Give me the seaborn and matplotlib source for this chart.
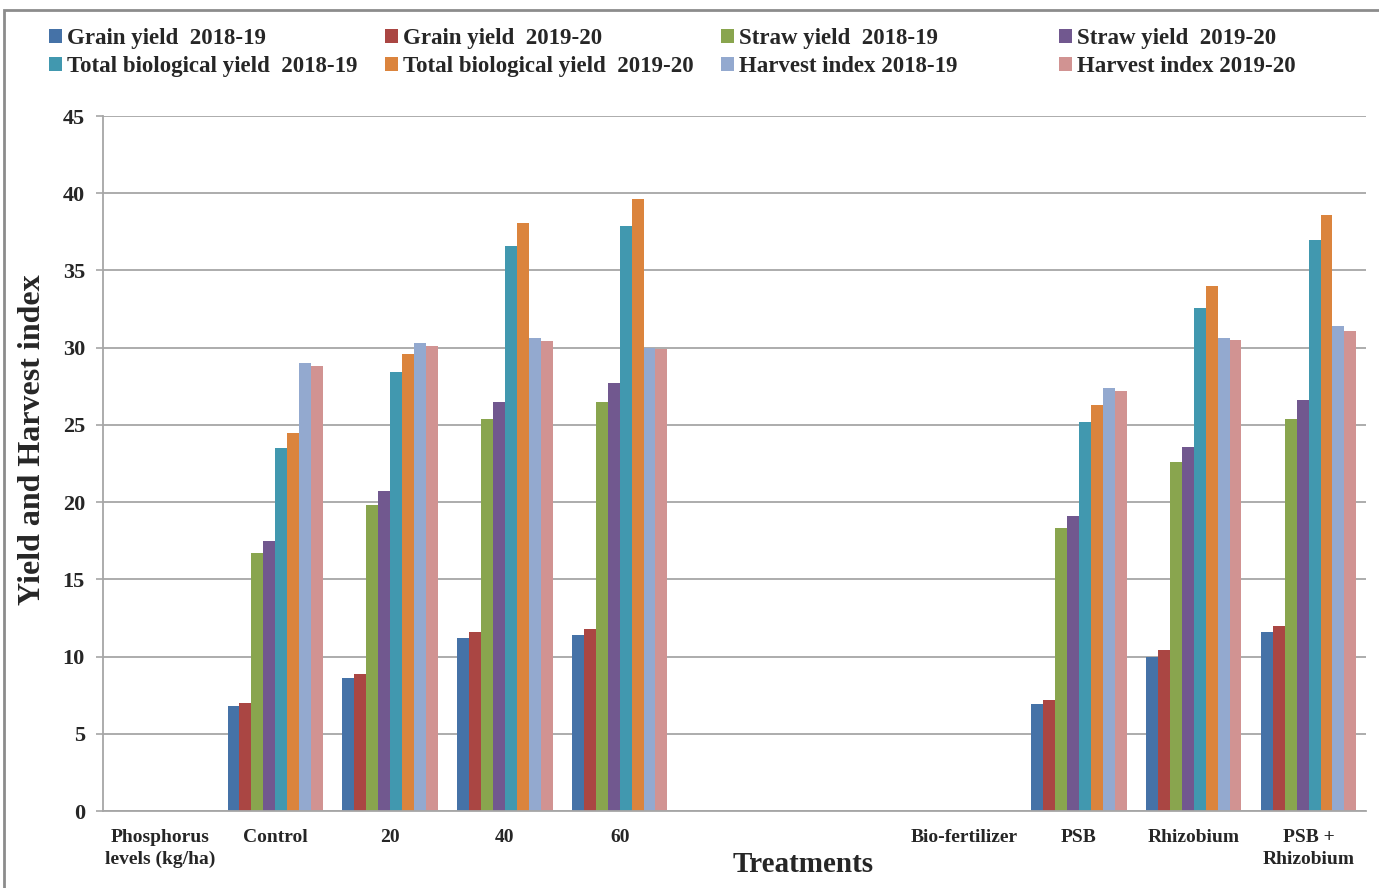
import matplotlib
matplotlib.use("Agg")
import matplotlib.pyplot as plt
from matplotlib.patches import Rectangle, Patch
import numpy as np
import pandas as pd
import seaborn as sns

# Treatment categories along the x axis (two spacer slots separate the groups)
categories = ["Phosphorus\nlevels (kg/ha)", "Control", "20", "40", "60", "", " ",
              "Bio-fertilizer", "PSB", "Rhizobium", "PSB +\nRhizobium"]
treatments = ["Control", "20", "40", "60", "PSB", "Rhizobium", "PSB +\nRhizobium"]

series = ["Grain yield  2018-19", "Grain yield  2019-20",
          "Straw yield  2018-19", "Straw yield  2019-20",
          "Total biological yield  2018-19", "Total biological yield  2019-20",
          "Harvest index 2018-19", "Harvest index 2019-20"]

grain_2018 = [6.8, 8.6, 11.2, 11.4, 6.9, 10.0, 11.6]
grain_2019 = [7.0, 8.9, 11.6, 11.8, 7.2, 10.4, 12.0]
straw_2018 = [16.7, 19.8, 25.4, 26.5, 18.3, 22.6, 25.4]
straw_2019 = [17.5, 20.7, 26.5, 27.7, 19.1, 23.6, 26.6]
tby_2018 = [23.5, 28.4, 36.6, 37.9, 25.2, 32.6, 37.0]
tby_2019 = [24.5, 29.6, 38.1, 39.6, 26.3, 34.0, 38.6]
hi_2018 = [29.0, 30.3, 30.6, 30.0, 27.4, 30.6, 31.4]
hi_2019 = [28.8, 30.1, 30.4, 29.9, 27.2, 30.5, 31.1]

colors = ["#4572A7", "#AA4643", "#89A54E", "#71588F",
          "#4198AF", "#DB843D", "#93A9CF", "#D19392"]

values = [grain_2018, grain_2019, straw_2018, straw_2019,
          tby_2018, tby_2019, hi_2018, hi_2019]
rows = []
for name, vals in zip(series, values):
    for t, v in zip(treatments, vals):
        rows.append({"Treatment": t, "Series": name, "Value": v})
df = pd.DataFrame(rows)

sns.set_style("white")
plt.rcParams["font.family"] = ["Liberation Serif", "DejaVu Serif"]
plt.rcParams["font.weight"] = "bold"

fig = plt.figure(figsize=(13.79, 8.88), dpi=100)
ax = fig.add_axes([103 / 1379, 1 - 811 / 888, (1366 - 103) / 1379, (811 - 116) / 888])

sns.barplot(data=df, x="Treatment", y="Value", hue="Series", order=categories,
            hue_order=series, palette=colors, width=0.83, gap=0,
            saturation=1, edgecolor="none", linewidth=0, ax=ax, legend=False)

ax.set_xlim(-0.5, len(categories) - 0.5)
ax.set_ylim(0, 45)
ax.set_yticks(np.arange(0, 46, 5))
ax.yaxis.grid(True, color="#A6A6A6", linewidth=1.3)
ax.set_axisbelow(True)

for side in ["top", "right"]:
    ax.spines[side].set_visible(False)
for side in ["left", "bottom"]:
    ax.spines[side].set_color("#A6A6A6")
    ax.spines[side].set_linewidth(1.3)

ax.set_xticks(range(len(categories)))
ax.set_xticklabels(categories, fontsize=14, fontweight="bold", linespacing=1.35)
ax.set_xticks(np.arange(-0.5, len(categories), 1), minor=True)
ax.tick_params(axis="x", which="major", length=0, pad=13)
ax.tick_params(axis="x", which="minor", length=6, color="#A6A6A6", width=1.2, direction="out")
ax.tick_params(axis="y", length=5, color="#A6A6A6", width=1.2, pad=8,
               labelsize=16, left=True)
for lbl in ax.get_yticklabels():
    lbl.set_fontweight("bold")

ax.set_xlabel("Treatments", fontsize=21, fontweight="bold")
ax.xaxis.set_label_coords(700 / 1263, -(851 - 811) / 695)
ax.set_ylabel("Yield and Harvest index", fontsize=23, fontweight="bold")
ax.yaxis.set_label_coords((47 - 103) / 1263, (811 - 440) / 695)

# Legend laid out as four equal-width columns of two entries each
col_x = [49, 385, 721, 1059]
for c in range(4):
    idx = [c, c + 4]
    handles = [Patch(facecolor=colors[i], edgecolor="none") for i in idx]
    labels = [series[i] for i in idx]
    leg = fig.legend(handles, labels, loc="upper left",
                     bbox_to_anchor=(col_x[c] / 1379, 1 - 28 / 888),
                     frameon=False, fontsize=16.5, handlelength=0.55,
                     handleheight=0.55, handletextpad=0.25, labelspacing=0.3,
                     borderpad=0, borderaxespad=0)
    for t in leg.get_texts():
        t.set_fontweight("bold")

# Chart area border
fig.patches.append(Rectangle((4 / 1379, -0.5), 2, 0.5 + 1 - 10 / 888,
                             transform=fig.transFigure, fill=False,
                             edgecolor="#8C8C8C", linewidth=2))

fig.savefig("out.png", dpi=100)
